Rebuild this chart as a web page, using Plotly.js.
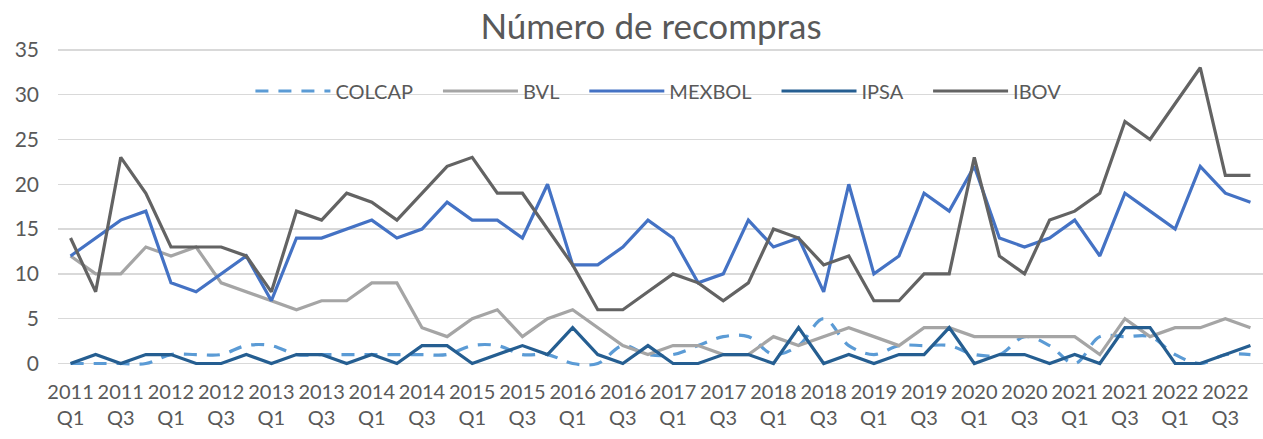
<!DOCTYPE html>
<html>
<head>
<meta charset="utf-8">
<script src="https://cdn.plot.ly/plotly-3.0.1.min.js"></script>
<style>
  html, body { margin: 0; padding: 0; background: #ffffff; }
  #chart { width: 1263px; height: 439px; }
</style>
</head>
<body>
<div id="chart"></div>
<script>
// Periods (quarters 2011 Q1 .. 2022 Q4)
const years = [2011, 2012, 2013, 2014, 2015, 2016, 2017, 2018, 2019, 2020, 2021, 2022];
const quarters = ["Q1", "Q2", "Q3", "Q4"];
const categories = [];
years.forEach(y => quarters.forEach(q => categories.push(y + "<br>" + q)));

// Series values
const COLCAP = [0,0,0,0,1,1,1,2,2,1,1,1,1,1,1,1,2,2,1,1,0,0,2,1,1,2,3,3,1,2,5,2,1,2,2,2,1,1,3,2,0,3,3,3,1,0,1,1];
const BVL    = [12,10,10,13,12,13,9,8,7,6,7,7,9,9,4,3,5,6,3,5,6,4,2,1,2,2,1,1,3,2,3,4,3,2,4,4,3,3,3,3,3,1,5,3,4,4,5,4];
const MEXBOL = [12,14,16,17,9,8,10,12,7,14,14,15,16,14,15,18,16,16,14,20,11,11,13,16,14,9,10,16,13,14,8,20,10,12,19,17,22,14,13,14,16,12,19,17,15,22,19,18];
const IPSA   = [0,1,0,1,1,0,0,1,0,1,1,0,1,0,2,2,0,1,2,1,4,1,0,2,0,0,1,1,0,4,0,1,0,1,1,4,0,1,1,0,1,0,4,4,0,0,1,2];
const IBOV   = [14,8,23,19,13,13,13,12,8,17,16,19,18,16,19,22,23,19,19,15,11,6,6,8,10,9,7,9,15,14,11,12,7,7,10,10,23,12,10,16,17,19,27,25,29,33,21,21];

const seriesNames = ["COLCAP", "BVL", "MEXBOL", "IPSA", "IBOV"];
const seriesData = [COLCAP, BVL, MEXBOL, IPSA, IBOV];
const seriesColors = ["#5B9BD5", "#A5A5A5", "#4472C4", "#255E91", "#636363"];

const FONT = "Lato, 'Open Sans', sans-serif";
const TXT = "#595959";
const PAD = "\u00a0\u00a0\u00a0\u00a0"; // spacing after legend labels

const traces = seriesNames.map((name, i) => ({
  type: "scatter",
  mode: "lines",
  name: name + PAD,
  x: categories,
  y: seriesData[i],
  line: {
    color: seriesColors[i],
    width: 3.2,
    dash: i === 0 ? "13px,10px" : "solid",
    shape: i === 0 ? "spline" : "linear",
    smoothing: 1
  },
  hoverinfo: "x+y+name"
}));

const tickCats = categories.filter((_, i) => i % 2 === 0);

const layout = {
  width: 1263,
  height: 439,
  paper_bgcolor: "#ffffff",
  plot_bgcolor: "#ffffff",
  margin: { l: 57.5, r: 0, t: 48, b: 71, pad: 0, autoexpand: false },
  font: { family: FONT, color: TXT, size: 20 },
  title: {
    text: "Número de recompras",
    font: { family: FONT, color: TXT, size: 35 },
    x: 651 / 1263,
    xref: "container",
    xanchor: "center",
    y: 1 - 27 / 439,
    yref: "container",
    yanchor: "middle"
  },
  showlegend: true,
  legend: {
    orientation: "h",
    xref: "paper",
    yref: "paper",
    x: (250 - 57.5) / 1205.5,
    xanchor: "left",
    y: (368 - 91) / 320,
    yanchor: "middle",
    font: { family: FONT, color: TXT, size: 20 },
    bgcolor: "rgba(0,0,0,0)",
    itemwidth: 75,
    traceorder: "normal"
  },
  xaxis: {
    type: "category",
    range: [-0.5, 47.5],
    tickmode: "array",
    tickvals: tickCats,
    ticktext: tickCats,
    showgrid: false,
    zeroline: false,
    showline: false,
    ticks: "",
    ticklabelstandoff: 10,
    tickangle: 0,
    tickfont: { family: FONT, color: TXT, size: 20 },
    fixedrange: true
  },
  yaxis: {
    range: [-0.5, 35.2],
    tickmode: "linear",
    tick0: 0,
    dtick: 5,
    showgrid: true,
    gridcolor: "#D9D9D9",
    gridwidth: 1.5,
    zeroline: false,
    showline: false,
    ticks: "",
    ticklabelstandoff: 18,
    tickfont: { family: FONT, color: TXT, size: 21 },
    fixedrange: true
  }
};

Plotly.newPlot("chart", traces, layout, { displayModeBar: false, staticPlot: true });
</script>
</body>
</html>
